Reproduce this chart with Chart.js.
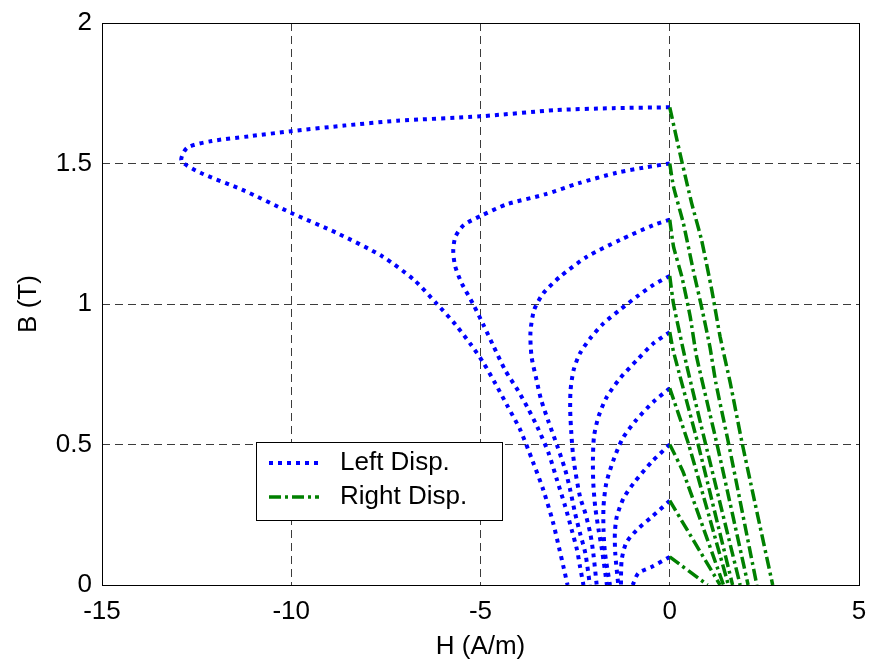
<!DOCTYPE html>
<html>
<head>
<meta charset="utf-8">
<script src="https://cdn.jsdelivr.net/npm/chart.js@4.4.1/dist/chart.umd.min.js"></script>
<style>
  html, body { margin: 0; padding: 0; background: #fff; }
  #wrap { width: 874px; height: 669px; }
</style>
</head>
<body>
<div id="wrap"><canvas id="c" width="874" height="669"></canvas></div>
<script>
// B-H demagnetisation paths, [H (A/m), B (T)] pairs.
// Left displacement: each path leaves H = 0 at a given B and runs to B = 0 at negative H.
const left17 = [[0,1.70],[-1.5,1.697],[-3.0,1.69],[-5.0,1.668],[-7.2,1.652],[-8.6,1.635],[-10,1.615],[-11.1,1.597],[-12.1,1.58],[-12.75,1.556],[-12.9,1.51],[-12.4,1.467],[-11.3,1.407],[-10,1.324],[-8.8,1.253],[-7.6,1.17],[-6.75,1.085],[-6.15,1.0],[-5.65,0.925],[-5.25,0.855],[-4.92,0.79],[-4.6,0.715],[-4.3,0.64],[-3.95,0.552],[-3.62,0.44],[-3.34,0.338],[-3.09,0.226],[-2.92,0.13],[-2.8,0.06],[-2.7,0]];
const left15 = [[0,1.5],[-0.7,1.485],[-1.4,1.467],[-2.4,1.43],[-3.3,1.39],[-4.3,1.355],[-5.0,1.313],[-5.44,1.281],[-5.66,1.24],[-5.72,1.19],[-5.67,1.135],[-5.5,1.075],[-5.18,0.996],[-4.92,0.925],[-4.65,0.848],[-4.35,0.765],[-4.0,0.69],[-3.75,0.63],[-3.5,0.563],[-3.2,0.469],[-2.98,0.374],[-2.76,0.279],[-2.59,0.196],[-2.45,0.125],[-2.37,0.065],[-2.28,0]];
const left13 = [[0,1.3],[-0.43,1.281],[-1.31,1.228],[-2.19,1.168],[-2.9,1.097],[-3.34,1.038],[-3.58,0.98],[-3.68,0.9],[-3.65,0.812],[-3.52,0.73],[-3.4,0.66],[-3.2,0.58],[-2.98,0.498],[-2.76,0.409],[-2.63,0.338],[-2.5,0.255],[-2.37,0.184],[-2.23,0.113],[-2.11,0]];
const left11 = [[0,1.1],[-0.43,1.068],[-0.87,1.026],[-1.31,0.98],[-1.75,0.931],[-2.1,0.878],[-2.37,0.825],[-2.54,0.765],[-2.62,0.694],[-2.63,0.62],[-2.6,0.54],[-2.56,0.47],[-2.5,0.409],[-2.37,0.314],[-2.23,0.255],[-2.1,0.184],[-2.02,0.113],[-1.93,0]];
const left09 = [[0,0.9],[-0.43,0.86],[-0.87,0.8],[-1.31,0.736],[-1.66,0.67],[-1.88,0.6],[-2.0,0.53],[-2.03,0.445],[-2.02,0.362],[-1.97,0.279],[-1.88,0.196],[-1.79,0.125],[-1.66,0]];
const left07 = [[0,0.7],[-0.43,0.652],[-0.9,0.585],[-1.25,0.52],[-1.5,0.44],[-1.68,0.36],[-1.75,0.279],[-1.75,0.196],[-1.71,0.113],[-1.58,0]];
const left05 = [[0,0.5],[-0.47,0.439],[-0.92,0.368],[-1.22,0.309],[-1.4,0.243],[-1.45,0.184],[-1.44,0.113],[-1.36,0]];
const left03 = [[0,0.3],[-0.47,0.243],[-0.87,0.196],[-1.15,0.15],[-1.27,0.089],[-1.29,0]];
const left01 = [[0,0.1],[-0.47,0.065],[-0.83,0.042],[-0.98,0]];

// Right displacement: recoil paths from the same starting points towards positive H.
const right17 = [[0,1.7],[0.27,1.536],[0.58,1.358],[0.84,1.228],[1.11,1.05],[1.33,0.884],[1.6,0.718],[1.92,0.5],[2.72,0]];
const right15 = [[0,1.5],[0.1,1.417],[0.36,1.287],[0.62,1.121],[0.84,0.99],[1.06,0.848],[1.22,0.718],[1.56,0.5],[2.3,0]];
const right13 = [[0,1.3],[0.1,1.204],[0.32,1.097],[0.54,0.955],[0.71,0.812],[1.25,0.5],[2.07,0]];
const right11 = [[0,1.1],[0.1,1.0],[0.45,0.78],[0.95,0.5],[1.86,0]];
const right09 = [[0,0.9],[0.1,0.83],[0.75,0.5],[1.66,0]];
const right07 = [[0,0.7],[0.5,0.5],[1.55,0]];
const right05 = [[0,0.5],[0.36,0.4],[1.42,0]];
const right03 = [[0,0.3],[1.33,0]];
const right01 = [[0,0.1],[1.0,0]];

const leftCurves  = [left17, left15, left13, left11, left09, left07, left05, left03, left01];
const rightCurves = [right17, right15, right13, right11, right09, right07, right05, right03, right01];

const seriesNames = ['Left Disp.', 'Right Disp.'];
const hTicks = [-15, -10, -5, 0, 5];
const hTickLabels = ['-15', '-10', '-5', '0', '5'];
const bTicks = [0, 0.5, 1, 1.5, 2];
const bTickLabels = ['0', '0.5', '1', '1.5', '2'];

const FONT = "'Liberation Sans', Arial, Helvetica, sans-serif";
const BLUE = '#0000ff';
const GREEN = '#008000';

const toXY = pts => pts.map(p => ({ x: p[0], y: p[1] }));

const datasets = [];
rightCurves.forEach((c, i) => datasets.push({
  label: seriesNames[1], data: toXY(c), showLine: true, order: 0,
  borderColor: GREEN, borderWidth: 3.5, borderDash: [12, 4, 3, 4],
  pointRadius: 0, tension: 0.15, legendKey: i === 0
}));
leftCurves.forEach((c, i) => datasets.push({
  label: seriesNames[0], data: toXY(c), showLine: true, order: 1,
  borderColor: BLUE, borderWidth: 4, borderDash: [4, 5],
  pointRadius: 0, tension: 0.25, legendKey: i === 0
}));

// Axes frame and the boxed legend inside the plot area.
const frameAndLegend = {
  id: 'frameAndLegend',
  afterDatasetsDraw(chart) {
    const { ctx, chartArea: a } = chart;
    ctx.save();
    ctx.setLineDash([]);
    ctx.strokeStyle = '#000';
    ctx.lineWidth = 1;
    ctx.strokeRect(Math.round(a.left) + 0.5, Math.round(a.top) + 0.5,
                   Math.round(a.right - a.left), Math.round(a.bottom - a.top));

    // legend
    const bx = a.left + 154, by = a.top + 419, bw = 246, bh = 78;
    ctx.fillStyle = '#fff';
    ctx.fillRect(bx, by, bw, bh);
    ctx.strokeRect(Math.round(bx) + 0.5, Math.round(by) + 0.5, bw, bh);
    const keys = chart.data.datasets.filter(d => d.legendKey);
    const entries = seriesNames.map(n => keys.find(d => d.label === n));
    entries.forEach((d, i) => {
      const y = by + 21 + i * 34;
      ctx.beginPath();
      ctx.strokeStyle = d.borderColor;
      ctx.lineWidth = d.borderWidth;
      ctx.lineCap = 'butt';
      ctx.setLineDash(d.borderDash);
      ctx.moveTo(bx + 13, y);
      ctx.lineTo(bx + 63, y);
      ctx.stroke();
      ctx.setLineDash([]);
      ctx.fillStyle = '#000';
      ctx.font = '26px ' + FONT;
      ctx.textBaseline = 'middle';
      ctx.textAlign = 'left';
      ctx.fillText(d.label, bx + 84, y);
    });
    ctx.restore();
  }
};

const gridColor = ctx => {
  const v = ctx.tick && ctx.tick.value;
  const s = ctx.scale;
  return (v === s.min || v === s.max) ? 'rgba(0,0,0,0)' : '#3c3c3c';
};

new Chart(document.getElementById('c'), {
  type: 'scatter',
  data: { datasets },
  plugins: [frameAndLegend],
  options: {
    responsive: false,
    animation: false,
    devicePixelRatio: 1,
    layout: { padding: { top: 23, right: 15, left: 0, bottom: 0 } },
    plugins: { legend: { display: false }, tooltip: { enabled: false } },
    elements: { line: { borderCapStyle: 'butt', borderJoinStyle: 'round' } },
    scales: {
      x: {
        type: 'linear', min: -15, max: 5,
        afterBuildTicks: s => { s.ticks = hTicks.map(v => ({ value: v })); },
        afterFit: s => { s.height = 84; s.paddingLeft = 0; s.paddingRight = 0; },
        ticks: {
          autoSkip: false, maxRotation: 0, padding: 11, color: '#000',
          font: { family: FONT, size: 26 },
          callback: v => hTickLabels[hTicks.indexOf(v)]
        },
        grid: { color: gridColor, lineWidth: 1, drawTicks: false },
        border: { display: false, dash: [8, 5] },
        title: {
          display: true, text: 'H (A/m)', color: '#000',
          font: { family: FONT, size: 26 }, padding: { top: 0, bottom: 7 }
        }
      },
      y: {
        type: 'linear', min: 0, max: 2,
        afterBuildTicks: s => { s.ticks = bTicks.map(v => ({ value: v })); },
        afterFit: s => { s.width = 102; s.paddingTop = 0; s.paddingBottom = 0; },
        ticks: {
          autoSkip: false, padding: 10, color: '#000',
          font: { family: FONT, size: 26 },
          callback: v => bTickLabels[bTicks.indexOf(v)]
        },
        grid: { color: gridColor, lineWidth: 1, drawTicks: false },
        border: { display: false, dash: [8, 5] },
        title: {
          display: true, text: 'B (T)', color: '#000',
          font: { family: FONT, size: 26 }, padding: { top: 13, bottom: 0 }
        }
      }
    }
  }
});
</script>
</body>
</html>
